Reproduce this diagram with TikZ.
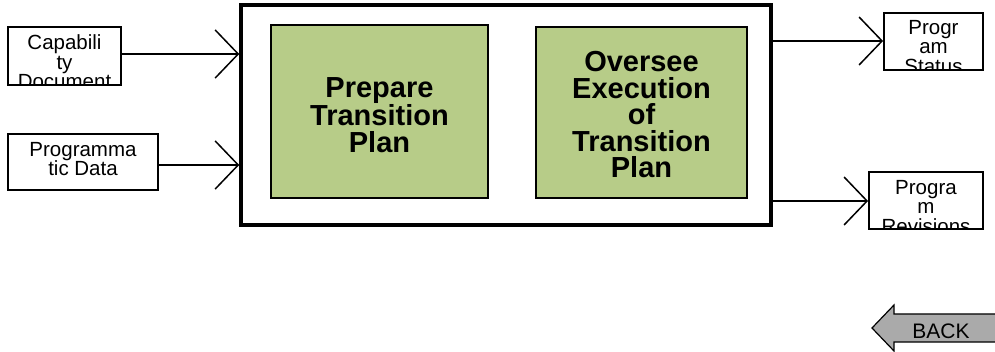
\documentclass[tikz,border=0pt]{standalone}
\usepackage{fontspec}
\setmainfont{Liberation Sans}
\usetikzlibrary{arrows.meta}
\definecolor{boxgreen}{RGB}{183,204,136}
\definecolor{backgray}{RGB}{170,170,170}
\tikzset{
  smallbox/.style={draw, line width=1.8pt, fill=white, inner sep=0pt},
  greenbox/.style={draw, line width=2pt, fill=boxgreen, inner sep=0pt},
  outerbox/.style={draw, line width=3.5pt, inner sep=0pt},
  smalltext/.style={align=center, inner sep=0pt, font=\fontsize{20.5}{19.5}\selectfont},
  bigtext/.style={align=center, inner sep=0pt, font=\fontsize{29}{26.5}\selectfont\bfseries},
  flow/.style={line width=1.5pt, -{Straight Barb[length=23pt,width=48pt,line width=1.5pt]}}
}
\begin{document}
\begin{tikzpicture}[x=1pt,y=-1pt]
\useasboundingbox (0,0) rectangle (995,352);
% outer box
\node[outerbox, minimum width=530pt, minimum height=220pt] (outer) at (506,115) {};
\node[greenbox, minimum width=217pt, minimum height=173pt] (prep) at (379.5,111.5) {};
\node[bigtext] (preptext) at (379.5,115) {Prepare\\Transition\\Plan};
\node[greenbox, minimum width=211pt, minimum height=171pt] (over) at (641.5,112.5) {};
\node[bigtext] (overtext) at (641.5,115) {Oversee\\Execution\\of\\Transition\\Plan};
% input boxes
\node[smallbox, minimum width=113pt, minimum height=58pt] (cap) at (64.5,56) {};
\begin{scope}
\clip (cap.south west) rectangle (cap.north east);
\node[smalltext] (captext) at (64.5,62) {Capabili\\ty\\Document};
\end{scope}
\node[smallbox, minimum width=150pt, minimum height=56pt] (prog) at (83,162) {};
\node[smalltext] (progtext) at (83,159) {Programma\\tic Data};
% output boxes
\node[smallbox, minimum width=99pt, minimum height=57pt] (stat) at (933.5,41.5) {};
\begin{scope}
\clip (stat.south west) rectangle (stat.north east);
\node[smalltext] (stattext) at (933.5,47) {Progr\\am\\Status};
\end{scope}
\node[smallbox, minimum width=114pt, minimum height=57pt] (rev) at (926,200.5) {};
\begin{scope}
\clip (rev.south west) rectangle (rev.north east);
\node[smalltext] (revtext) at (926,207) {Progra\\m\\Revisions};
\end{scope}
% connectors
\draw[flow] (cap.east |- 0,54) -- (outer.west |- 0,54);
\draw[flow] (prog.east |- 0,165) -- (outer.west |- 0,165);
\draw[flow] (outer.east |- 0,41) -- (stat.west |- 0,41);
\draw[flow] (outer.east |- 0,201) -- (rev.west |- 0,201);
% back button
\coordinate (backtip) at (872,328);
\draw[line width=1.2pt, fill=backgray] (backtip) -- (894,305) -- (894,314) -- (1000,314) -- (1000,342) -- (894,342) -- (894,351) -- cycle;
\node[inner sep=0pt, font=\fontsize{21}{21}\selectfont] (back) at (941,331) {BACK};
\end{tikzpicture}
\end{document}
